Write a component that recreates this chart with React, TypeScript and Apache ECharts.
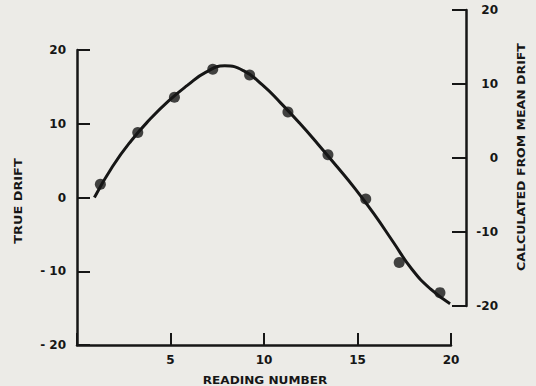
import React, { useEffect, useRef } from "react";
import * as echarts from "echarts";

const readingX = [1.25, 3.25, 5.21, 7.26, 9.23, 11.28, 13.42, 15.44, 17.23, 19.41];
const trueDrift = [1.8, 8.8, 13.6, 17.4, 16.6, 11.6, 5.8, -0.2, -8.8, -12.9];

const curveX = [0.93, 1.9, 2.9, 3.9, 4.9, 5.9, 6.9, 7.9, 8.9, 9.9, 10.9, 11.9, 12.9, 13.9, 14.9, 15.9, 16.9, 17.9, 18.9, 19.95];
const curveY = [0, 4.2, 7.7, 10.6, 13.1, 15.2, 17.0, 17.85, 17.2, 15.3, 12.8, 10.1, 7.2, 4.2, 1.1, -2.3, -6.0, -9.7, -12.4, -14.4];

const xTicks = [0, 5, 10, 15, 20];
const leftTicks = [-20, -10, 0, 10, 20];
const rightTicks = [-20, -10, 0, 10, 20];

const INK = "#161616";
const FONT = "DejaVu Sans";

export default function App() {
  const ref = useRef<HTMLDivElement>(null);
  useEffect(() => {
    if (!ref.current) return;
    const chart = echarts.init(ref.current, null, { renderer: "svg" });
    const axisLineStyle = { color: INK, width: 2.5 };
    const labelStyle = { color: INK, fontFamily: FONT, fontWeight: "bold" as const, fontSize: 12 };
    chart.setOption({
      animation: false,
      backgroundColor: "#ecebe7",
      grid: [
        { left: 77, right: 85, top: 50, bottom: 41 },
        { left: 77, right: 85, top: 10, bottom: 80 },
      ],
      xAxis: [
        {
          type: "value",
          gridIndex: 0,
          min: xTicks[0],
          max: xTicks[xTicks.length - 1],
          interval: 5,
          axisLine: { show: true, onZero: false, lineStyle: axisLineStyle },
          axisTick: { show: true, inside: true, length: 12, lineStyle: { color: INK, width: 2 } },
          splitLine: { show: false },
          axisLabel: {
            ...labelStyle,
            margin: 9,
            formatter: (v: number) => (v === 0 ? "" : String(v)),
          },
        },
        {
          type: "value",
          gridIndex: 1,
          min: 0,
          max: 20,
          show: false,
          axisLine: { show: false, onZero: false },
        },
      ],
      yAxis: [
        {
          type: "value",
          gridIndex: 0,
          min: leftTicks[0],
          max: leftTicks[leftTicks.length - 1],
          interval: 10,
          axisLine: { show: true, onZero: false, lineStyle: axisLineStyle },
          axisTick: { show: true, inside: true, length: 13, lineStyle: { color: INK, width: 2 } },
          splitLine: { show: false },
          axisLabel: {
            ...labelStyle,
            margin: 11,
            formatter: (v: number) => (v < 0 ? "- " + Math.abs(v) : String(v)),
          },
        },
        {
          type: "value",
          gridIndex: 1,
          position: "right",
          offset: 15,
          min: rightTicks[0],
          max: rightTicks[rightTicks.length - 1],
          interval: 10,
          axisLine: { show: true, onZero: false, lineStyle: axisLineStyle },
          axisTick: { show: true, inside: true, length: 14, lineStyle: { color: INK, width: 2 } },
          splitLine: { show: false },
          axisLabel: {
            ...labelStyle,
            align: "right",
            margin: 32,
            formatter: (v: number) => (v < 0 ? "-" + Math.abs(v) : String(v)),
          },
        },
      ],
      series: [
        {
          type: "line",
          xAxisIndex: 0,
          yAxisIndex: 0,
          data: curveX.map((x, i) => [x, curveY[i]]),
          smooth: 0.5,
          showSymbol: false,
          lineStyle: { color: INK, width: 3 },
          z: 2,
        },
        {
          type: "scatter",
          xAxisIndex: 0,
          yAxisIndex: 0,
          data: readingX.map((x, i) => [x, trueDrift[i]]),
          symbol: "circle",
          symbolSize: 11,
          itemStyle: { color: INK },
          z: 3,
        },
      ],
      graphic: [
        {
          type: "text",
          x: 18,
          y: 201,
          rotation: Math.PI / 2,
          scaleX: 1.17,
          style: {
            text: "TRUE DRIFT",
            fill: INK,
            font: `bold 11px "${FONT}"`,
            textAlign: "center",
            textVerticalAlign: "middle",
          },
        },
        {
          type: "text",
          x: 521,
          y: 157,
          rotation: Math.PI / 2,
          scaleX: 1.14,
          style: {
            text: "CALCULATED FROM MEAN DRIFT",
            fill: INK,
            font: `bold 11px "${FONT}"`,
            textAlign: "center",
            textVerticalAlign: "middle",
          },
        },
        {
          type: "text",
          x: 265,
          y: 380,
          scaleX: 1.1,
          style: {
            text: "READING NUMBER",
            fill: INK,
            font: `bold 11px "${FONT}"`,
            textAlign: "center",
            textVerticalAlign: "middle",
          },
        },
      ],
    });
    return () => chart.dispose();
  }, []);
  return (
    <div
      ref={ref}
      style={{ position: "absolute", left: 0, top: 0, width: 536, height: 386 }}
    />
  );
}
